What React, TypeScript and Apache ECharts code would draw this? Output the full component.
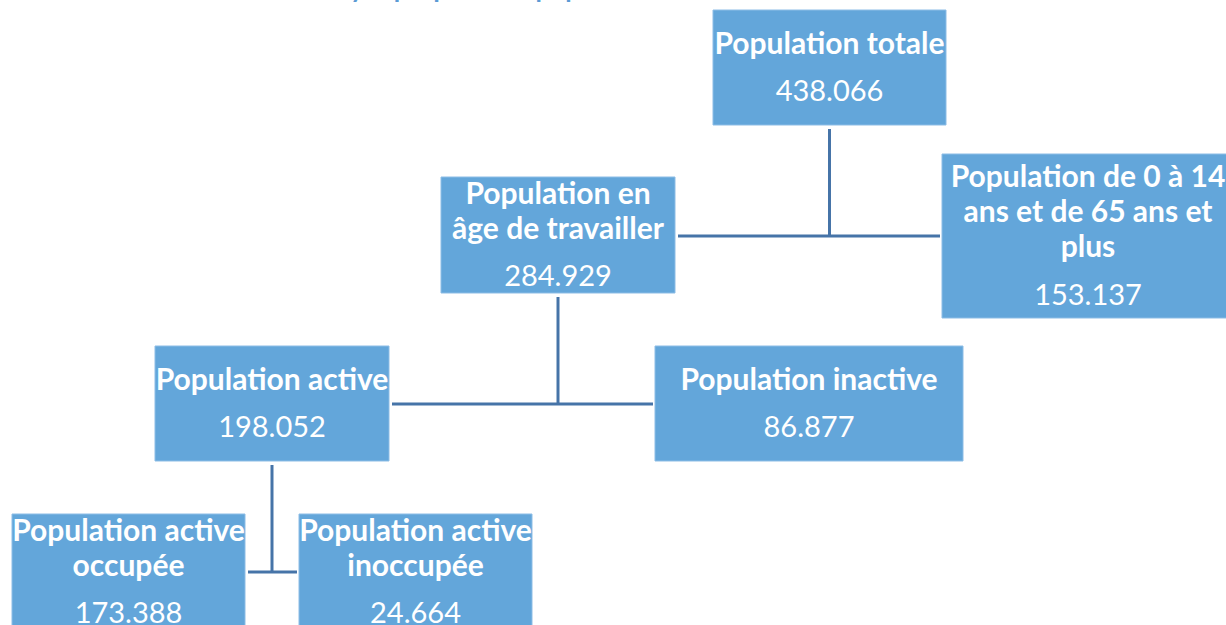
import React, { useEffect, useRef } from "react";
import * as echarts from "echarts";

const titleText = "Synoptique de la population de la commune en 2014";

const nodeLabels: string[][] = [
  ["Population totale"],
  ["Population de 0 à 14", "ans et de 65 ans et", "plus"],
  ["Population en", "âge de travailler"],
  ["Population active"],
  ["Population inactive"],
  ["Population active", "occupée"],
  ["Population active", "inoccupée"],
];
const nodeValues: string[] = ["438.066", "153.137", "284.929", "198.052", "86.877", "173.388", "24.664"];

// parent -> [left child, right child]
const links: [number, number, number][] = [
  [0, 2, 1],
  [2, 3, 4],
  [3, 5, 6],
];

// layout (x, y, width, height) of each box
const boxLayout: [number, number, number, number][] = [
  [713, 10, 233, 115],
  [942, 154, 292, 164],
  [441, 177, 234, 116],
  [155, 346, 234, 115],
  [655, 346, 308, 115],
  [12, 514, 233, 116],
  [299, 514, 233, 116],
];
const connectorY: number[] = [236, 404, 572];

const BOX_COLOR = "#63A6DA";
const LINE_COLOR = "#4674A8";
const FONT = "Lato, 'Open Sans', sans-serif";

export default function App() {
  const ref = useRef<HTMLDivElement>(null);
  useEffect(() => {
    document.body.style.margin = "0";
    if (!ref.current) return;
    const chart = echarts.init(ref.current, null, { renderer: "svg" });
    const elements: any[] = [];

    // connectors
    links.forEach(([p, l, r], i) => {
      const [px, py, pw, ph] = boxLayout[p];
      const [lx, , lw] = boxLayout[l];
      const [rx] = boxLayout[r];
      const cx = px + pw / 2;
      const yMid = connectorY[i];
      elements.push({
        type: "line",
        shape: { x1: cx, y1: py + ph + 4, x2: cx, y2: yMid },
        style: { stroke: LINE_COLOR, lineWidth: 3 },
      });
      elements.push({
        type: "line",
        shape: { x1: lx + lw + 3, y1: yMid, x2: rx - 2, y2: yMid },
        style: { stroke: LINE_COLOR, lineWidth: 3 },
      });
    });

    // boxes
    nodeLabels.forEach((lines, i) => {
      const [x, y, w, h] = boxLayout[i];
      elements.push({
        type: "rect",
        shape: { x, y, width: w, height: h },
        style: { fill: BOX_COLOR, stroke: "#8DBDE6", lineWidth: 1 },
      });
      const n = lines.length;
      const span = 35 * (n - 1) + 48;
      const cy = y + h / 2 - 2;
      const start = cy - span / 2;
      const cx = x + w / 2;
      lines.forEach((t, k) => {
        elements.push({
          type: "text",
          x: cx,
          y: start + 35 * k,
          style: {
            text: t,
            fill: "#ffffff",
            font: `bold 30px ${FONT}`,
            textAlign: "center",
            textVerticalAlign: "middle",
          },
        });
      });
      elements.push({
        type: "text",
        x: cx,
        y: start + 35 * (n - 1) + 48,
        style: {
          text: nodeValues[i],
          fill: "#ffffff",
          font: `normal 29px ${FONT}`,
          textAlign: "center",
          textVerticalAlign: "middle",
        },
      });
    });

    // clipped title
    elements.push({
      type: "text",
      x: 640,
      y: -12,
      style: {
        text: titleText,
        fill: "#5B9BD5",
        font: `bold 26px ${FONT}`,
        textAlign: "center",
        textVerticalAlign: "middle",
      },
    });

    chart.setOption({
      animation: false,
      backgroundColor: "#ffffff",
      graphic: { elements },
    });
    return () => chart.dispose();
  }, []);
  return <div ref={ref} style={{ width: 1226, height: 625 }} />;
}
